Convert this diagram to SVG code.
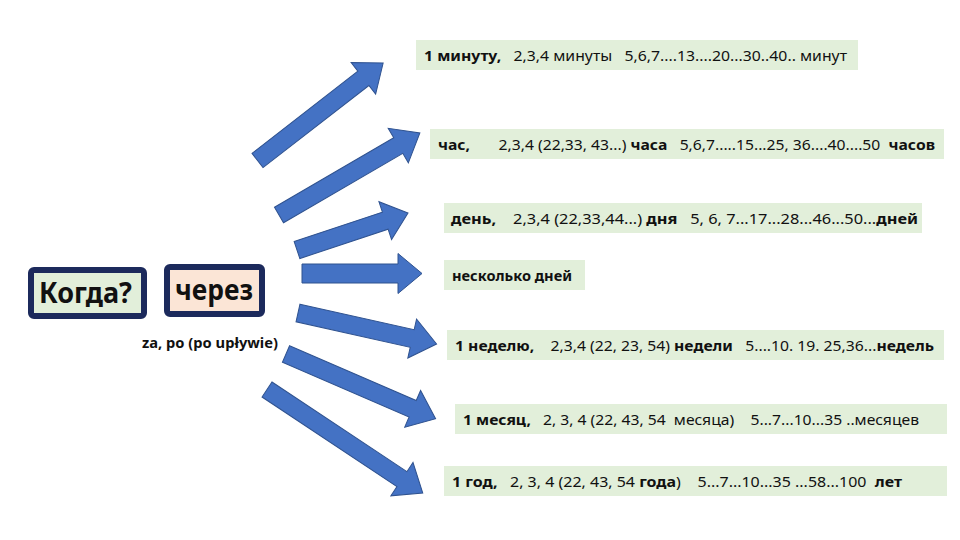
<svg xmlns="http://www.w3.org/2000/svg" width="960" height="540" viewBox="0 0 960 540">
<style>
.box{fill:#e2efda;}
.t{font-family:"Noto Sans","Open Sans","Liberation Sans",sans-serif;font-size:14.5px;fill:#111;white-space:pre;}
.b{font-weight:bold;}
.q{fill:#e2efda;stroke:#1c2a5c;stroke-width:6;}
.big{font-family:"Noto Sans","Open Sans","Liberation Sans",sans-serif;font-size:28px;font-weight:bold;fill:#111;}
.arr{fill:#4472c4;stroke:#2f528f;stroke-width:1;}
</style>
<rect width="960" height="540" fill="#ffffff"/>
<g id="kogda">
<rect class="q" x="31" y="270" width="113" height="46" rx="3"/>
<text class="big" x="39" y="303" textLength="93" lengthAdjust="spacingAndGlyphs">Когда?</text>
</g>
<g id="cherez">
<rect class="q" x="167" y="267" width="95" height="47" rx="3" style="fill:#fbe5d6"/>
<text class="big" x="175" y="300" textLength="78" lengthAdjust="spacingAndGlyphs">через</text>
</g>
<g id="za-po">
<text class="t b" x="142" y="348" textLength="136" lengthAdjust="spacingAndGlyphs" style="font-size:13.5px">za, po (po upływie)</text>
</g>
<g id="connectors">
<path class="arr" transform="translate(257.5,160.5) rotate(-37.8)" d="M0,-9 L134,-9 L134,-20 L159,0 L134,20 L134,9 L0,9 Z"/>
<path class="arr" transform="translate(279,215) rotate(-30.2)" d="M0,-9 L138,-9 L138,-20 L163,0 L138,20 L138,9 L0,9 Z"/>
<path class="arr" transform="translate(297,250) rotate(-18.4)" d="M0,-9 L93,-9 L93,-20 L117,0 L93,20 L93,9 L0,9 Z"/>
<path class="arr" transform="translate(302,273.5)" d="M0,-9.5 L96,-9.5 L96,-20 L120,0 L96,20 L96,9.5 L0,9.5 Z"/>
<path class="arr" transform="translate(298,313) rotate(12.6)" d="M0,-9 L117,-9 L117,-20 L142,0 L117,20 L117,9 L0,9 Z"/>
<path class="arr" transform="translate(286,354) rotate(23.4)" d="M0,-9 L138,-9 L138,-20 L163,0 L138,20 L138,9 L0,9 Z"/>
<path class="arr" transform="translate(267,389.5) rotate(33.6)" d="M0,-9 L162,-9 L162,-20 L187,0 L162,20 L162,9 L0,9 Z"/>
</g>
<g id="minute">
<rect class="box" x="416" y="40" width="442" height="30"/>
<text class="t" x="424" y="61" textLength="423" lengthAdjust="spacingAndGlyphs"><tspan class="b">1 минуту,</tspan>   2,3,4 минуты   5,6,7....13....20...30..40.. минут</text>
</g>
<g id="hour">
<rect class="box" x="430" y="129" width="514" height="30"/>
<text class="t" x="438" y="150" textLength="497" lengthAdjust="spacingAndGlyphs"><tspan class="b">час,</tspan>       2,3,4 (22,33, 43...) <tspan class="b">часа</tspan>   5,6,7.....15...25, 36....40....50  <tspan class="b">часов</tspan></text>
</g>
<g id="day">
<rect class="box" x="444" y="203" width="478" height="30"/>
<text class="t" x="451" y="224" textLength="467" lengthAdjust="spacingAndGlyphs"><tspan class="b">день,</tspan>    2,3,4 (22,33,44...) <tspan class="b">дня</tspan>   5, 6, 7...17...28...46...50...<tspan class="b">дней</tspan></text>
</g>
<g id="several-days">
<rect class="box" x="444" y="260" width="141" height="30"/>
<text class="t b" x="452" y="281" textLength="120" lengthAdjust="spacingAndGlyphs">несколько дней</text>
</g>
<g id="week">
<rect class="box" x="447" y="330" width="497" height="30"/>
<text class="t" x="455" y="351" textLength="479" lengthAdjust="spacingAndGlyphs"><tspan class="b">1 неделю,</tspan>    2,3,4 (22, 23, 54) <tspan class="b">недели</tspan>   5....10. 19. 25,36...<tspan class="b">недель</tspan></text>
</g>
<g id="month">
<rect class="box" x="455" y="404" width="492" height="30"/>
<text class="t" x="463" y="425" textLength="456" lengthAdjust="spacingAndGlyphs"><tspan class="b">1 месяц,</tspan>   2, 3, 4 (22, 43, 54  месяца)    5...7...10...35 ..месяцев</text>
</g>
<g id="year">
<rect class="box" x="444" y="466" width="503" height="30"/>
<text class="t" x="452" y="487" textLength="450" lengthAdjust="spacingAndGlyphs"><tspan class="b">1 год,</tspan>   2, 3, 4 (22, 43, 54 <tspan class="b">года</tspan>)    5...7...10...35 ...58...100  <tspan class="b">лет</tspan></text>
</g>
</svg>
